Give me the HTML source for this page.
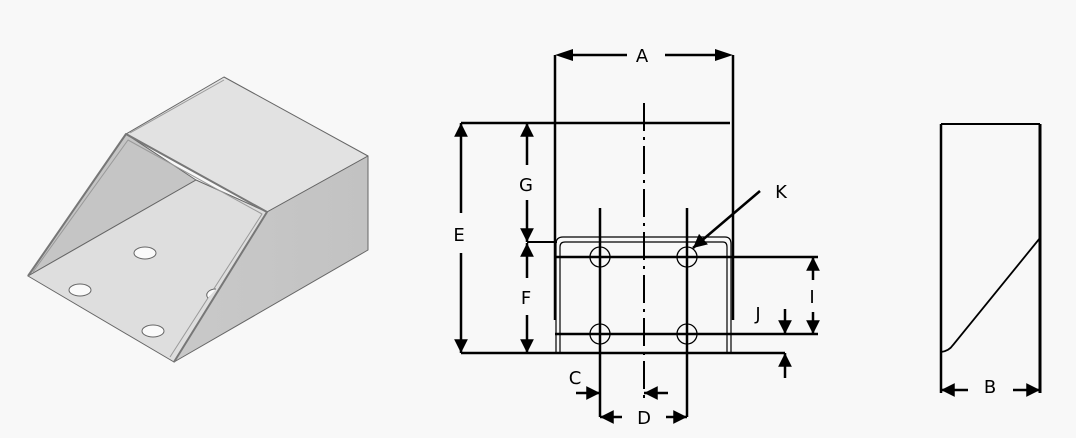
<!DOCTYPE html>
<html><head><style>
html,body{margin:0;padding:0;background:#f8f8f8;}
svg{display:block;}
text{font-family:"DejaVu Sans","Liberation Sans",sans-serif;font-size:18px;fill:#000;}
</style></head><body>
<svg width="1076" height="438" viewBox="0 0 1076 438" xmlns="http://www.w3.org/2000/svg">
<defs>
<marker id="ar" viewBox="0 0 10 10" refX="10" refY="5" markerWidth="6" markerHeight="5.5" orient="auto-start-reverse"><path d="M0,0L10,5L0,10z" fill="#000"/></marker>
<linearGradient id="side" x1="0" y1="0" x2="1" y2="0"><stop offset="0" stop-color="#c9c9c9"/><stop offset="1" stop-color="#c2c2c2"/></linearGradient>
</defs>
<g stroke="#666" stroke-width="1" stroke-linejoin="round">
<polygon points="224,77 368,156 267,212 126,134" fill="#e2e2e2"/>
<polygon points="267,212 368,156 368,250 174,362" fill="url(#side)"/>
<polygon points="126,134 196,180 28,276" fill="#c5c5c5"/>
<polygon points="28,276 196,180 267,212 174,362" fill="#dedede"/>
<polyline points="28,276 126,134 267,212 174,362" fill="none" stroke="#777" stroke-width="2"/>
<polyline points="33,272 128,140 262,214 170,357" fill="none" stroke="#999" stroke-width="1"/>
<line x1="130" y1="133" x2="224" y2="80" stroke="#999"/>
<ellipse cx="145" cy="253" rx="11" ry="6" fill="#fafafa"/>
<ellipse cx="80" cy="290" rx="11" ry="6" fill="#fafafa"/>
<ellipse cx="153" cy="331" rx="11" ry="6" fill="#fafafa"/>
<path d="M208,298 a9,6 0 0 1 8,-9" fill="#fafafa"/>
</g>
<g stroke="#000" fill="none">
<line x1="555" y1="55" x2="555" y2="320" stroke-width="2.5"/>
<line x1="733" y1="55" x2="733" y2="320" stroke-width="2.5"/>
<line x1="573" y1="55" x2="627" y2="55" stroke-width="2.5"/>
<line x1="665" y1="55" x2="718" y2="55" stroke-width="2.5"/>
<polygon points="555,55 573,49 573,61" fill="#000" stroke="none"/>
<polygon points="733,55 715,49 715,61" fill="#000" stroke="none"/>
<line x1="461" y1="123" x2="730" y2="123" stroke-width="2.5"/>
<line x1="461" y1="353" x2="785" y2="353" stroke-width="2.5"/>
<line x1="527" y1="242" x2="557" y2="242" stroke-width="2"/>
<line x1="555" y1="257" x2="818" y2="257" stroke-width="2.5"/>
<line x1="555" y1="334" x2="818" y2="334" stroke-width="2.5"/>
<path d="M556,353 V244 Q556,237 563,237 H725 Q731,237 731,244 V353" stroke-width="1.2"/>
<path d="M560,353 V247 Q560,242 565,242 H723 Q727,242 727,247 V353" stroke-width="1.2"/>
<line x1="600" y1="208" x2="600" y2="417" stroke-width="2.5"/>
<line x1="687" y1="208" x2="687" y2="417" stroke-width="2.5"/>
<circle cx="600" cy="257" r="10" stroke-width="1.3"/>
<circle cx="687" cy="257" r="10" stroke-width="1.3"/>
<circle cx="600" cy="334" r="10" stroke-width="1.3"/>
<circle cx="687" cy="334" r="10" stroke-width="1.3"/>
<line x1="644" y1="103" x2="644" y2="398" stroke-width="2" stroke-dasharray="28,6,3,6"/>
<line x1="461" y1="123" x2="461" y2="213" stroke-width="2.5" marker-start="url(#ar)"/>
<line x1="461" y1="253" x2="461" y2="353" stroke-width="2.5" marker-end="url(#ar)"/>
<line x1="527" y1="123" x2="527" y2="165" stroke-width="2.5" marker-start="url(#ar)"/>
<line x1="527" y1="200" x2="527" y2="242" stroke-width="2.5" marker-end="url(#ar)"/>
<line x1="527" y1="243" x2="527" y2="278" stroke-width="2.5" marker-start="url(#ar)"/>
<line x1="527" y1="315" x2="527" y2="353" stroke-width="2.5" marker-end="url(#ar)"/>
<line x1="813" y1="257" x2="813" y2="280" stroke-width="2.5" marker-start="url(#ar)"/>
<line x1="813" y1="312" x2="813" y2="334" stroke-width="2.5" marker-end="url(#ar)"/>
<line x1="785" y1="309" x2="785" y2="334" stroke-width="2.5" marker-end="url(#ar)"/>
<line x1="785" y1="378" x2="785" y2="353" stroke-width="2.5" marker-end="url(#ar)"/>
<line x1="576" y1="393" x2="600" y2="393" stroke-width="2.5" marker-end="url(#ar)"/>
<line x1="668" y1="393" x2="644" y2="393" stroke-width="2.5" marker-end="url(#ar)"/>
<line x1="600" y1="417" x2="622" y2="417" stroke-width="2.5" marker-start="url(#ar)"/>
<line x1="666" y1="417" x2="687" y2="417" stroke-width="2.5" marker-end="url(#ar)"/>
<line x1="760" y1="191" x2="693" y2="248" stroke-width="2.5" marker-end="url(#ar)"/>
</g>
<text x="642" y="62" text-anchor="middle">A</text>
<text x="459" y="241" text-anchor="middle">E</text>
<text x="526" y="191" text-anchor="middle">G</text>
<text x="526" y="304" text-anchor="middle">F</text>
<text x="812" y="303" text-anchor="middle">I</text>
<text x="758" y="320" text-anchor="middle">J</text>
<text x="575" y="384" text-anchor="middle">C</text>
<text x="644" y="424" text-anchor="middle">D</text>
<text x="781" y="198" text-anchor="middle">K</text>
<g stroke="#000" fill="none">
<line x1="941" y1="124" x2="1040" y2="124" stroke-width="2"/>
<line x1="941" y1="124" x2="941" y2="393" stroke-width="2.5"/>
<line x1="1040" y1="124" x2="1040" y2="393" stroke-width="3"/>
<path d="M1040,238 L953,345 Q949,351 941,352" stroke-width="1.8"/>
<line x1="941" y1="390" x2="968" y2="390" stroke-width="2.5" marker-start="url(#ar)"/>
<line x1="1013" y1="390" x2="1040" y2="390" stroke-width="2.5" marker-end="url(#ar)"/>
</g>
<text x="990" y="393" text-anchor="middle">B</text>
</svg>
</body></html>
